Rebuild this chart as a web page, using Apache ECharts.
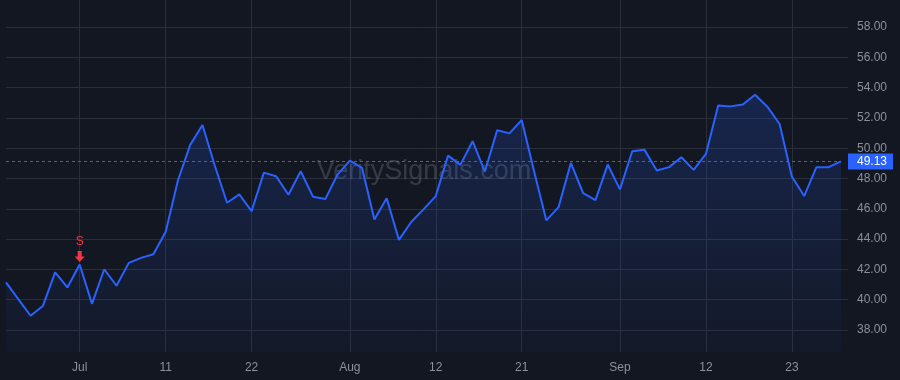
<!DOCTYPE html>
<html>
<head>
<meta charset="utf-8">
<style>
html,body{margin:0;padding:0;background:#131722;}
#chart{width:900px;height:380px;}
</style>
<script src="https://cdn.jsdelivr.net/npm/echarts@6/dist/echarts.min.js"></script>
</head>
<body>
<div id="chart"></div>
<script>
const dates = [
 '2024-06-21','2024-06-24','2024-06-25','2024-06-26','2024-06-27','2024-06-28',
 '2024-07-01','2024-07-02','2024-07-03','2024-07-05','2024-07-08','2024-07-09','2024-07-10','2024-07-11','2024-07-12',
 '2024-07-15','2024-07-16','2024-07-17','2024-07-18','2024-07-19','2024-07-22','2024-07-23','2024-07-24','2024-07-25',
 '2024-07-26','2024-07-29','2024-07-30','2024-07-31',
 '2024-08-01','2024-08-02','2024-08-05','2024-08-06','2024-08-07','2024-08-08','2024-08-09','2024-08-12','2024-08-13',
 '2024-08-14','2024-08-15','2024-08-16','2024-08-19','2024-08-20','2024-08-21','2024-08-22','2024-08-23','2024-08-26',
 '2024-08-27','2024-08-28','2024-08-29','2024-08-30',
 '2024-09-03','2024-09-04','2024-09-05','2024-09-06','2024-09-09','2024-09-10','2024-09-11','2024-09-12','2024-09-13',
 '2024-09-16','2024-09-17','2024-09-18','2024-09-19','2024-09-20','2024-09-23','2024-09-24','2024-09-25','2024-09-26','2024-09-27'
];
const closes = [
 41.14, 40.04, 38.94, 39.58, 41.80, 40.81,
 42.32, 39.73, 42.01, 40.92, 42.43, 42.76, 43.00, 44.47, 47.87,
 50.22, 51.53, 48.86, 46.40, 46.95, 45.85, 48.39, 48.15, 46.93,
 48.48, 46.80, 46.64, 48.26,
 49.18, 48.70, 45.30, 46.70, 43.95, 45.13, 45.96, 46.84, 49.51,
 48.90, 50.46, 48.46, 51.18, 50.98, 51.86, 48.50, 45.24, 46.11,
 49.03, 47.03, 46.57, 48.92,
 47.28, 49.80, 49.89, 48.53, 48.75, 49.40, 48.57, 49.62, 52.82,
 52.76, 52.89, 53.53, 52.74, 51.60, 48.13, 46.84, 48.75, 48.75, 49.13
];
const tickLabels = {
 '2024-07-01':'Jul','2024-07-11':'11','2024-07-22':'22','2024-08-01':'Aug',
 '2024-08-12':'12','2024-08-21':'21','2024-09-03':'Sep','2024-09-12':'12','2024-09-23':'23'
};
const yMin = 38, yMax = 58, yStep = 2;
const signalDates = ['2024-07-01'];
const signalTexts = ['S'];
const lastPrice = closes[closes.length - 1];

const gridColor = '#2a2e39';
const textColor = '#8c909b';
const lineColor = '#2962ff';
const font = '"Liberation Sans", Arial, sans-serif';

const pxPerUnit = 303 / (yMax - yMin);
const outerMin = yMin - 22 / pxPerUnit;
const outerMax = yMax + 27 / pxPerUnit;

const showTick = (i, v) => Object.prototype.hasOwnProperty.call(tickLabels, v);

const chart = echarts.init(document.getElementById('chart'), null, {renderer: 'canvas'});
chart.setOption({
 backgroundColor: '#131722',
 animation: false,
 textStyle: {fontFamily: font},
 graphic: [{
  type: 'text', x: 424, y: 172, z: 1,
  style: {text: 'VeritySignals.com', font: '27px ' + font, fill: 'rgba(178,181,190,0.22)',
          textAlign: 'center', textVerticalAlign: 'middle'}
 }],
 grid: [
  {left: 6, right: 59, top: 0, bottom: 28},
  {left: 6, right: 59, top: 27, bottom: 50}
 ],
 xAxis: [
  {type: 'category', gridIndex: 0, data: dates, boundaryGap: false,
   axisLine: {show: false}, axisTick: {show: false},
   axisLabel: {interval: showTick, formatter: v => tickLabels[v] || '', color: textColor,
               fontSize: 12, margin: 10, fontFamily: font},
   splitLine: {show: true, interval: showTick, lineStyle: {color: gridColor, width: 1}}},
  {type: 'category', gridIndex: 1, data: dates, boundaryGap: false, show: false}
 ],
 yAxis: [
  {type: 'value', gridIndex: 0, min: outerMin, max: outerMax, show: false},
  {type: 'value', gridIndex: 1, min: yMin, max: yMax, interval: yStep, position: 'right',
   axisLine: {show: false},
   axisTick: {show: true, length: 7, lineStyle: {color: gridColor}},
   axisLabel: {color: textColor, fontSize: 12, margin: 16, formatter: v => v.toFixed(2), fontFamily: font},
   splitLine: {show: true, lineStyle: {color: gridColor, width: 1}}}
 ],
 series: [{
  type: 'line', xAxisIndex: 0, yAxisIndex: 0, data: closes, z: 3,
  symbol: 'none', smooth: false,
  lineStyle: {color: lineColor, width: 2},
  areaStyle: {origin: 'start', color: new echarts.graphic.LinearGradient(0, 0, 0, 1, [
   {offset: 0, color: 'rgba(41,98,255,0.28)'},
   {offset: 1, color: 'rgba(41,98,255,0.04)'}
  ])},
  markLine: {
   silent: true, symbol: 'none', z: 4,
   lineStyle: {color: lineColor, type: [3, 3], width: 1},
   label: {show: true, position: 'end', distance: 7, formatter: p => p.value.toFixed(2),
           color: '#ffffff', backgroundColor: lineColor, padding: [2, 6, 2, 9], fontSize: 12, fontFamily: font},
   data: [{yAxis: lastPrice}]
  },
  markPoint: {
   silent: true,
   symbol: 'path://M3,0 L7,0 L7,5 L10,5 L5,10 L0,5 L3,5 Z',
   symbolSize: [10, 11], symbolOffset: [0, -8],
   itemStyle: {color: '#f23645'},
   label: {show: true, position: 'top', distance: 3, color: '#f23645', fontSize: 12, fontFamily: font,
           formatter: p => p.name},
   data: signalDates.map((d, i) => ({name: signalTexts[i], coord: [d, closes[dates.indexOf(d)]]}))
  }
 }]
});
</script>
</body>
</html>
